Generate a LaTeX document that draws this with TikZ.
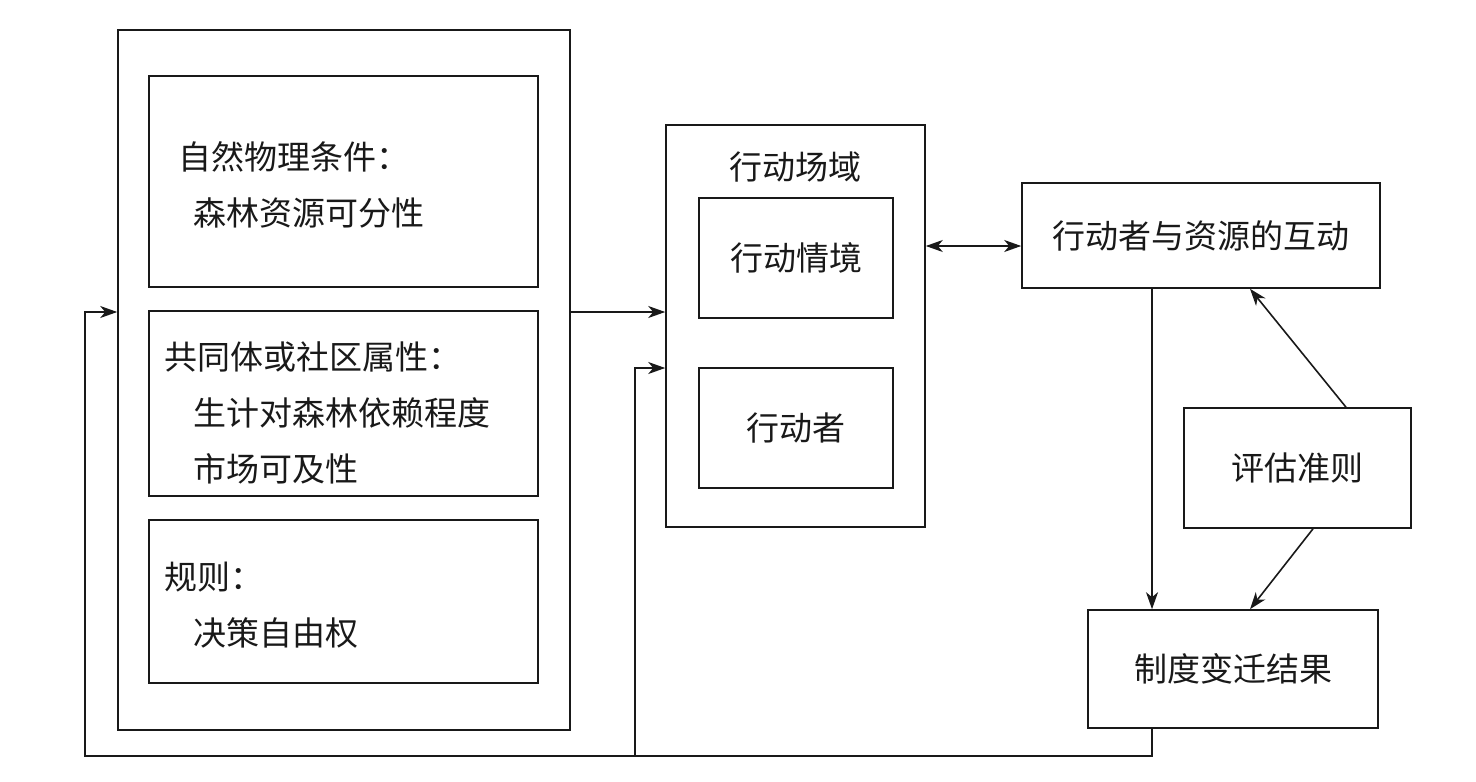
\documentclass[tikz,border=0pt]{standalone}
\usepackage{fontspec}
\setmainfont{Noto Sans CJK SC}
\usetikzlibrary{arrows.meta,fit}
\begin{document}
\begin{tikzpicture}[x=0.5pt,y=-0.5pt,
  box/.style={draw=black!90, line width=0.8pt, inner sep=0pt},
  lbl/.style={font=\fontsize{16.5}{20}\selectfont, inner sep=0pt, text=black!90},
  ln/.style={line width=0.8pt, draw=black!90},
  tip/.style={Stealth[length=8.5pt,width=6pt,inset=2.5pt]},
  arr/.style={ln, -{Stealth[length=8.5pt,width=6pt,inset=2.5pt]}},
  darr/.style={ln, {Stealth[length=8.5pt,width=6pt,inset=2.5pt]}-{Stealth[length=8.5pt,width=6pt,inset=2.5pt]}}]
\useasboundingbox (0,0) rectangle (1476,781);
% left group
\node[box, fit={(118,30) (570,730)}] (outer) {};
\node[box, fit={(149,76) (538,287)}] (phys) {};
\node[box, fit={(149,311) (538,496)}] (comm) {};
\node[box, fit={(149,520) (538,683)}] (rules) {};
\node[lbl, anchor=west] (t1) at (178,157) {自然物理条件：};
\node[lbl, anchor=west] (t2) at (193,213) {森林资源可分性};
\node[lbl, anchor=west] (t3) at (164,357) {共同体或社区属性：};
\node[lbl, anchor=west] (t4) at (193,413) {生计对森林依赖程度};
\node[lbl, anchor=west] (t5) at (193,469) {市场可及性};
\node[lbl, anchor=west] (t6) at (164,577) {规则：};
\node[lbl, anchor=west] (t7) at (193,633) {决策自由权};
% action arena
\node[box, fit={(666,125) (925,527)}] (arena) {};
\node[lbl] (arenat) at (795.5,167) {行动场域};
\node[box, fit={(699,198) (893,318)}] (sit) {};
\node[lbl] at (sit.center) {行动情境};
\node[box, fit={(699,368) (893,488)}] (actor) {};
\node[lbl] at (actor.center) {行动者};
% right side
\node[box, fit={(1022,183) (1380,288)}] (inter) {};
\node[lbl] at (inter.center) {行动者与资源的互动};
\node[box, fit={(1184,408) (1411,528)}] (crit) {};
\node[lbl] at (crit.center) {评估准则};
\node[box, fit={(1088,610) (1378,728)}] (outc) {};
\node[lbl] at (outc.center) {制度变迁结果};
% helper coordinates
\coordinate (y1) at (0,312);
\coordinate (y2) at (0,368);
\coordinate (yd) at (0,246);
\coordinate (xd) at (1152,0);
\coordinate (fb) at (85,756);
\coordinate (xb) at (635,0);
\coordinate (c1) at (1346,0);
\coordinate (c2) at (1250,0);
\coordinate (c3) at (1313,0);
% connectors
\draw[arr] (outer.east |- y1) -- (arena.west |- y1);
\draw[darr] (arena.east |- yd) -- (inter.west |- yd);
\draw[arr] (inter.south -| xd) -- (outc.north -| xd);
\draw[arr] (crit.north -| c1) -- (inter.south -| c2);
\draw[arr] (crit.south -| c3) -- (outc.north -| c2);
\draw[arr] (outc.south -| xd) |- (fb) |- (outer.west |- y1);
\draw[arr] (xb |- fb) |- (arena.west |- y2);
\end{tikzpicture}
\end{document}
